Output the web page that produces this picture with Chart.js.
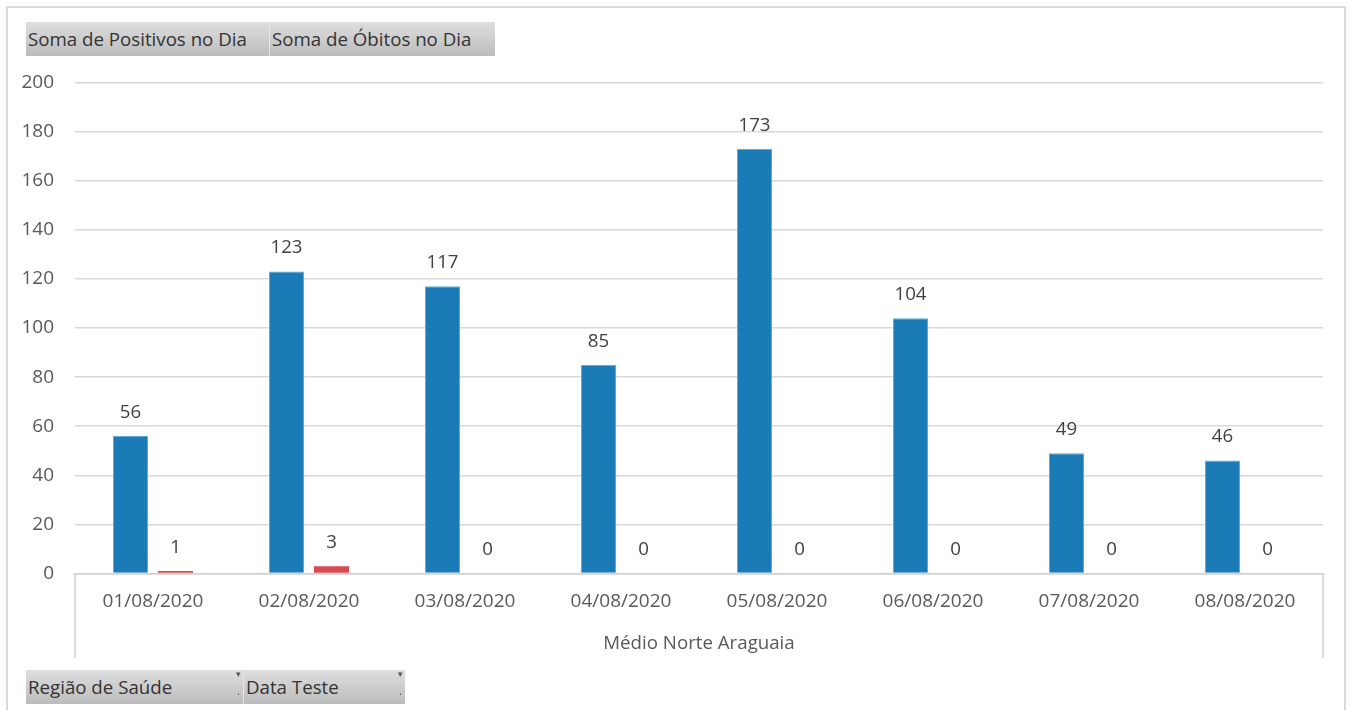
<!DOCTYPE html>
<html>
<head>
<meta charset="utf-8">
<script src="https://cdn.jsdelivr.net/npm/chart.js@4.4.1/dist/chart.umd.min.js"></script>
<style>
  html, body { margin: 0; padding: 0; background: #fff; overflow: hidden; }
  body { width: 1351px; height: 710px; position: relative; font-family: "Open Sans", sans-serif; }
  #frame { position: absolute; left: 6px; top: 6px; width: 1340px; height: 720px; border: 2px solid #dadada; box-sizing: border-box; }
  #wrap { position: absolute; left: 0; top: 0; width: 1351px; height: 710px; }
  .btn { position: absolute; height: 34px; line-height: 34px; font-size: 18.7px; color: #333; padding-left: 2px; box-sizing: border-box;
         background: linear-gradient(#dedede, #bcbcbc); white-space: nowrap; }
  .btn .arr { position: absolute; right: 2px; top: -13px; font-size: 9px; color: #555; }
  .btn .dot { position: absolute; right: 3px; top: 4px; font-size: 10px; color: #555; }
</style>
</head>
<body>
<div id="frame"></div>
<div id="wrap"><canvas id="c" width="1351" height="710"></canvas></div>
<div class="btn" style="left:26px; top:22px; width:243px;">Soma de Positivos no Dia</div>
<div class="btn" style="left:269px; top:22px; width:226px; border-left:1px solid #e6e6e6;">Soma de Óbitos no Dia</div>
<div class="btn" style="left:26px; top:670px; width:217px;">Região de Saúde<span class="arr">▾</span><span class="dot">.</span></div>
<div class="btn" style="left:243px; top:670px; width:162px; border-left:1px solid #e6e6e6;">Data Teste<span class="arr">▾</span><span class="dot">.</span></div>
<script>
const categories = ["01/08/2020", "02/08/2020", "03/08/2020", "04/08/2020", "05/08/2020", "06/08/2020", "07/08/2020", "08/08/2020"];
const positivos = [56, 123, 117, 85, 173, 104, 49, 46];
const obitos = [1, 3, 0, 0, 0, 0, 0, 0];
const groupLabel = "Médio Norte Araguaia";
const yTicks = [0, 20, 40, 60, 80, 100, 120, 140, 160, 180, 200];

const FONT = '"Open Sans", sans-serif';

const valueLabels = {
  id: 'valueLabels',
  afterDatasetsDraw(chart) {
    const ctx = chart.ctx;
    ctx.save();
    ctx.font = '18.7px ' + FONT;
    ctx.fillStyle = '#404040';
    ctx.textAlign = 'center';
    ctx.textBaseline = 'middle';
    chart.data.datasets.forEach((ds, i) => {
      const meta = chart.getDatasetMeta(i);
      meta.data.forEach((el, j) => {
        ctx.fillText(String(ds.data[j]), el.x, el.y - 23.5);
      });
    });
    ctx.restore();
  }
};

const groupAxis = {
  id: 'groupAxis',
  afterDraw(chart) {
    const ctx = chart.ctx;
    const a = chart.chartArea;
    ctx.save();
    ctx.strokeStyle = '#d0d0d0';
    ctx.lineWidth = 1.5;
    ctx.beginPath();
    ctx.moveTo(a.left, a.bottom);
    ctx.lineTo(a.left, a.bottom + 84);
    ctx.moveTo(a.right, a.bottom);
    ctx.lineTo(a.right, a.bottom + 84);
    ctx.stroke();
    ctx.font = '18.7px ' + FONT;
    ctx.fillStyle = '#595959';
    ctx.textAlign = 'center';
    ctx.textBaseline = 'middle';
    ctx.fillText(groupLabel, (a.left + a.right) / 2, a.bottom + 70);
    ctx.restore();
  }
};

new Chart(document.getElementById('c'), {
  type: 'bar',
  data: {
    labels: categories,
    datasets: [
      { label: 'Soma de Positivos no Dia', data: positivos, backgroundColor: '#1b7bb6', borderColor: '#62aad6', borderWidth: 1,
        categoryPercentage: 0.577, barPercentage: 0.778 },
      { label: 'Soma de Óbitos no Dia', data: obitos, backgroundColor: '#d64a52', borderWidth: 0,
        categoryPercentage: 0.577, barPercentage: 0.778 }
    ]
  },
  options: {
    responsive: false,
    animation: false,
    layout: { padding: { top: 82.5, left: 0, right: 28, bottom: 0 } },
    plugins: { legend: { display: false }, tooltip: { enabled: false } },
    scales: {
      x: {
        grid: { display: false, drawTicks: false },
        border: { display: true, color: '#d0d0d0', width: 1.5 },
        ticks: { color: '#595959', font: { family: FONT, size: 19 }, padding: 17, maxRotation: 0 },
        afterFit(s) { s.height = 136.5; }
      },
      y: {
        min: 0, max: 200,
        afterBuildTicks(s) { s.ticks = yTicks.map(v => ({ value: v })); },
        grid: { color: '#d9d9d9', lineWidth: 1.5, drawTicks: false },
        border: { display: false },
        ticks: { color: '#595959', font: { family: FONT, size: 19 }, padding: 21 },
        afterFit(s) { s.width = 75; }
      }
    }
  },
  plugins: [valueLabels, groupAxis]
});
</script>
</body>
</html>
